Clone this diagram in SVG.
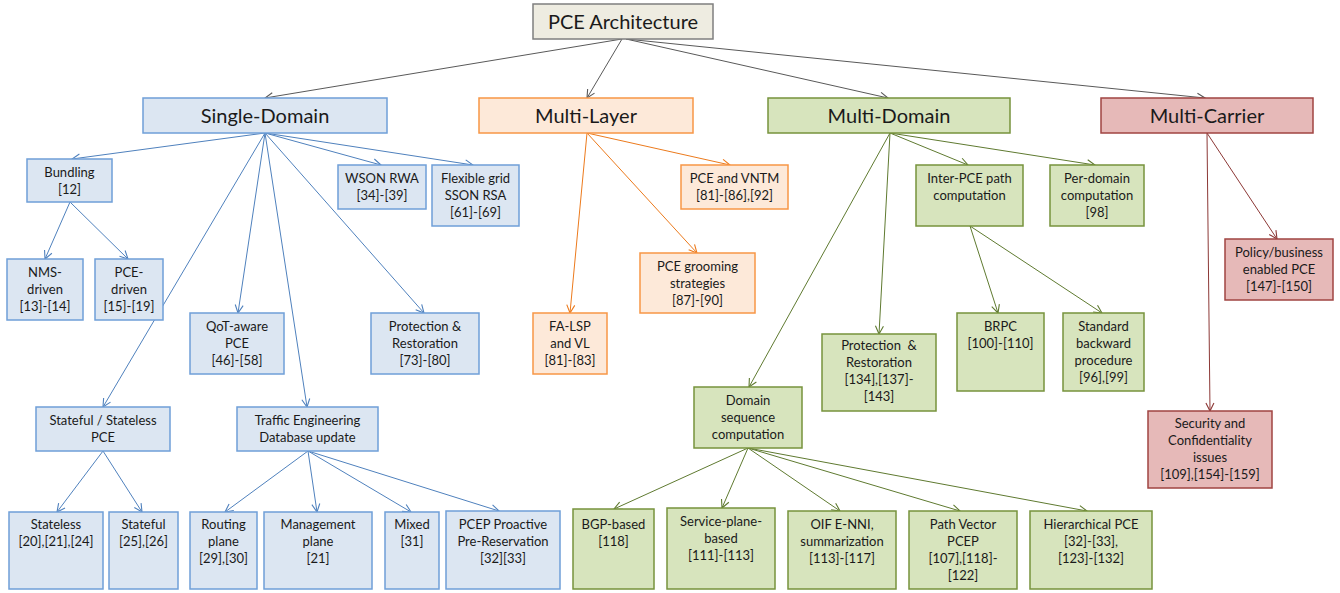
<svg xmlns="http://www.w3.org/2000/svg" width="1340" height="593" viewBox="0 0 1340 593">
  <style>
    text { font-family: Lato, "Open Sans", "Liberation Sans", sans-serif; fill: #1a1a1a; text-anchor: middle; }
    .head { font-size: 20px; }
    .small { font-size: 13px; }
    rect { stroke-width: 1.5; }
    .root rect { fill: #eeece1; stroke: #7f7f7f; }
    .blue rect { fill: #dce6f2; stroke: #6f9fd8; }
    .orange rect { fill: #fde9d9; stroke: #f79646; }
    .green rect { fill: #d7e4bd; stroke: #77933c; }
    .red rect { fill: #e6b9b8; stroke: #a04442; }
    #connectors line { stroke-width: 1; fill: none; }
    .c-gray { stroke: #595959; marker-end: url(#arr-gray); }
    .c-blue { stroke: #4f81bd; marker-end: url(#arr-blue); }
    .c-orange { stroke: #ec7a1c; marker-end: url(#arr-orange); }
    .c-green { stroke: #5f7a30; marker-end: url(#arr-green); }
    .c-red { stroke: #8c3836; marker-end: url(#arr-red); }
  </style>
  <defs>
    <marker id="arr-gray" markerUnits="userSpaceOnUse" markerWidth="12" markerHeight="12" refX="9" refY="5" orient="auto" overflow="visible">
      <path d="M1,1 L9,5 L1,9" fill="none" stroke="#595959" stroke-width="1.1"/>
    </marker>
    <marker id="arr-blue" markerUnits="userSpaceOnUse" markerWidth="12" markerHeight="12" refX="9" refY="5" orient="auto" overflow="visible">
      <path d="M1,1 L9,5 L1,9" fill="none" stroke="#4f81bd" stroke-width="1.1"/>
    </marker>
    <marker id="arr-orange" markerUnits="userSpaceOnUse" markerWidth="12" markerHeight="12" refX="9" refY="5" orient="auto" overflow="visible">
      <path d="M1,1 L9,5 L1,9" fill="none" stroke="#ec7a1c" stroke-width="1.1"/>
    </marker>
    <marker id="arr-green" markerUnits="userSpaceOnUse" markerWidth="12" markerHeight="12" refX="9" refY="5" orient="auto" overflow="visible">
      <path d="M1,1 L9,5 L1,9" fill="none" stroke="#5f7a30" stroke-width="1.1"/>
    </marker>
    <marker id="arr-red" markerUnits="userSpaceOnUse" markerWidth="12" markerHeight="12" refX="9" refY="5" orient="auto" overflow="visible">
      <path d="M1,1 L9,5 L1,9" fill="none" stroke="#8c3836" stroke-width="1.1"/>
    </marker>
  </defs>

  <rect x="0" y="0" width="1340" height="593" fill="#ffffff" stroke="none"/>

  <!-- connectors -->
  <g id="connectors">
    <!-- root to the four families -->
    <line class="c-gray" x1="622" y1="39" x2="265" y2="98"/>
    <line class="c-gray" x1="622" y1="39" x2="587" y2="98"/>
    <line class="c-gray" x1="626" y1="39" x2="888" y2="98"/>
    <line class="c-gray" x1="626" y1="39" x2="1205" y2="98"/>
    <!-- single-domain -->
    <line class="c-blue" x1="265" y1="133" x2="72" y2="159"/>
    <line class="c-blue" x1="265" y1="133" x2="381" y2="165"/>
    <line class="c-blue" x1="265" y1="133" x2="473" y2="165"/>
    <line class="c-blue" x1="265" y1="133" x2="238" y2="313"/>
    <line class="c-blue" x1="265" y1="133" x2="424" y2="313"/>
    <line class="c-blue" x1="265" y1="133" x2="103" y2="407"/>
    <line class="c-blue" x1="265" y1="133" x2="307" y2="407"/>
    <line class="c-blue" x1="70" y1="202" x2="45" y2="259"/>
    <line class="c-blue" x1="70" y1="202" x2="128" y2="259"/>
    <line class="c-blue" x1="103" y1="451" x2="57" y2="512"/>
    <line class="c-blue" x1="103" y1="451" x2="142" y2="512"/>
    <line class="c-blue" x1="308" y1="451" x2="225" y2="512"/>
    <line class="c-blue" x1="308" y1="451" x2="317" y2="512"/>
    <line class="c-blue" x1="308" y1="451" x2="411" y2="512"/>
    <line class="c-blue" x1="308" y1="451" x2="499" y2="511"/>
    <!-- multi-layer -->
    <line class="c-orange" x1="587" y1="133" x2="730" y2="165"/>
    <line class="c-orange" x1="587" y1="133" x2="697" y2="253"/>
    <line class="c-orange" x1="587" y1="133" x2="570" y2="313"/>
    <!-- multi-domain -->
    <line class="c-green" x1="890" y1="133" x2="968" y2="165"/>
    <line class="c-green" x1="890" y1="133" x2="1095" y2="165"/>
    <line class="c-green" x1="890" y1="133" x2="879" y2="334"/>
    <line class="c-green" x1="890" y1="133" x2="749" y2="387"/>
    <line class="c-green" x1="970" y1="226" x2="998" y2="313"/>
    <line class="c-green" x1="970" y1="226" x2="1102" y2="313"/>
    <line class="c-green" x1="748" y1="448" x2="614" y2="509"/>
    <line class="c-green" x1="748" y1="448" x2="722" y2="508"/>
    <line class="c-green" x1="748" y1="448" x2="840" y2="511"/>
    <line class="c-green" x1="748" y1="448" x2="960" y2="511"/>
    <line class="c-green" x1="748" y1="448" x2="1087" y2="511"/>
    <!-- multi-carrier -->
    <line class="c-red" x1="1207" y1="133" x2="1277" y2="239"/>
    <line class="c-red" x1="1207" y1="133" x2="1210" y2="411"/>
  </g>

  <!-- root -->
  <g id="pce-architecture" class="root">
    <rect x="533" y="4" width="180" height="35"/>
    <text class="head" x="623" y="29">PCE Architecture</text>
  </g>

  <!-- families -->
  <g id="single-domain" class="blue">
    <rect x="143" y="98" width="244" height="35"/>
    <text class="head" x="265" y="123">Single-Domain</text>
  </g>
  <g id="multi-layer" class="orange">
    <rect x="479" y="98" width="214" height="35"/>
    <text class="head" x="586" y="123">Multi-Layer</text>
  </g>
  <g id="multi-domain" class="green">
    <rect x="768" y="98" width="242" height="35"/>
    <text class="head" x="889" y="123">Multi-Domain</text>
  </g>
  <g id="multi-carrier" class="red">
    <rect x="1101" y="98" width="212" height="35"/>
    <text class="head" x="1207" y="123">Multi-Carrier</text>
  </g>

  <!-- single-domain topics -->
  <g id="bundling" class="blue">
    <rect x="27" y="159" width="85" height="43"/>
    <text class="small" x="69.5" y="177">Bundling<tspan x="69.5" dy="17">[12]</tspan></text>
  </g>
  <g id="nms-driven" class="blue">
    <rect x="7" y="259" width="76" height="61"/>
    <text class="small" x="45" y="277">NMS-<tspan x="45" dy="17">driven</tspan><tspan x="45" dy="17">[13]-[14]</tspan></text>
  </g>
  <g id="pce-driven" class="blue">
    <rect x="95" y="259" width="68" height="61"/>
    <text class="small" x="129" y="277">PCE-<tspan x="129" dy="17">driven</tspan><tspan x="129" dy="17">[15]-[19]</tspan></text>
  </g>
  <g id="wson-rwa" class="blue">
    <rect x="338" y="165" width="88" height="44"/>
    <text class="small" x="382" y="183">WSON RWA<tspan x="382" dy="17">[34]-[39]</tspan></text>
  </g>
  <g id="flexible-grid" class="blue">
    <rect x="432" y="165" width="87" height="61"/>
    <text class="small" x="475.5" y="183">Flexible grid<tspan x="475.5" dy="17">SSON RSA</tspan><tspan x="475.5" dy="17">[61]-[69]</tspan></text>
  </g>
  <g id="qot-aware" class="blue">
    <rect x="190" y="313" width="94" height="61"/>
    <text class="small" x="237" y="331">QoT-aware<tspan x="237" dy="17">PCE</tspan><tspan x="237" dy="17">[46]-[58]</tspan></text>
  </g>
  <g id="sd-protection" class="blue">
    <rect x="371" y="313" width="108" height="61"/>
    <text class="small" x="425" y="331">Protection &amp;<tspan x="425" dy="17">Restoration</tspan><tspan x="425" dy="17">[73]-[80]</tspan></text>
  </g>
  <g id="stateful-stateless" class="blue">
    <rect x="36" y="407" width="134" height="44"/>
    <text class="small" x="103" y="425">Stateful / Stateless<tspan x="103" dy="17">PCE</tspan></text>
  </g>
  <g id="ted-update" class="blue">
    <rect x="237" y="407" width="141" height="44"/>
    <text class="small" x="307.5" y="425">Traffic Engineering<tspan x="307.5" dy="17">Database update</tspan></text>
  </g>
  <g id="stateless" class="blue">
    <rect x="9" y="512" width="94" height="77"/>
    <text class="small" x="56" y="529">Stateless<tspan x="56" dy="17">[20],[21],[24]</tspan></text>
  </g>
  <g id="stateful" class="blue">
    <rect x="109" y="512" width="69" height="77"/>
    <text class="small" x="143.5" y="529">Stateful<tspan x="143.5" dy="17">[25],[26]</tspan></text>
  </g>
  <g id="routing-plane" class="blue">
    <rect x="190" y="512" width="67" height="77"/>
    <text class="small" x="223.5" y="529">Routing<tspan x="223.5" dy="17">plane</tspan><tspan x="223.5" dy="17">[29],[30]</tspan></text>
  </g>
  <g id="management-plane" class="blue">
    <rect x="264" y="512" width="108" height="77"/>
    <text class="small" x="318" y="529">Management<tspan x="318" dy="17">plane</tspan><tspan x="318" dy="17">[21]</tspan></text>
  </g>
  <g id="mixed" class="blue">
    <rect x="385" y="512" width="54" height="77"/>
    <text class="small" x="412" y="529">Mixed<tspan x="412" dy="17">[31]</tspan></text>
  </g>
  <g id="pcep-proactive" class="blue">
    <rect x="446" y="511" width="114" height="78"/>
    <text class="small" x="503" y="529">PCEP Proactive<tspan x="503" dy="17">Pre-Reservation</tspan><tspan x="503" dy="17">[32][33]</tspan></text>
  </g>

  <!-- multi-layer topics -->
  <g id="pce-vntm" class="orange">
    <rect x="681" y="165" width="107" height="44"/>
    <text class="small" x="734.5" y="183">PCE and VNTM<tspan x="734.5" dy="17">[81]-[86],[92]</tspan></text>
  </g>
  <g id="pce-grooming" class="orange">
    <rect x="640" y="253" width="115" height="60"/>
    <text class="small" x="697.5" y="271">PCE grooming<tspan x="697.5" dy="17">strategies</tspan><tspan x="697.5" dy="17">[87]-[90]</tspan></text>
  </g>
  <g id="fa-lsp" class="orange">
    <rect x="533" y="313" width="74" height="61"/>
    <text class="small" x="570" y="331">FA-LSP<tspan x="570" dy="17">and VL</tspan><tspan x="570" dy="17">[81]-[83]</tspan></text>
  </g>

  <!-- multi-domain topics -->
  <g id="inter-pce" class="green">
    <rect x="916" y="165" width="107" height="61"/>
    <text class="small" x="969.5" y="183">Inter-PCE path<tspan x="969.5" dy="17">computation</tspan></text>
  </g>
  <g id="per-domain" class="green">
    <rect x="1050" y="165" width="94" height="61"/>
    <text class="small" x="1097" y="183">Per-domain<tspan x="1097" dy="17">computation</tspan><tspan x="1097" dy="17">[98]</tspan></text>
  </g>
  <g id="md-protection" class="green">
    <rect x="822" y="334" width="114" height="77"/>
    <text class="small" x="879" y="350">Protection&#160; &amp;<tspan x="879" dy="17">Restoration</tspan><tspan x="879" dy="17">[134],[137]-</tspan><tspan x="879" dy="17">[143]</tspan></text>
  </g>
  <g id="brpc" class="green">
    <rect x="957" y="313" width="87" height="78"/>
    <text class="small" x="1000.5" y="331">BRPC<tspan x="1000.5" dy="17">[100]-[110]</tspan></text>
  </g>
  <g id="standard-backward" class="green">
    <rect x="1063" y="313" width="81" height="78"/>
    <text class="small" x="1103.5" y="331">Standard<tspan x="1103.5" dy="17">backward</tspan><tspan x="1103.5" dy="17">procedure</tspan><tspan x="1103.5" dy="17">[96],[99]</tspan></text>
  </g>
  <g id="domain-sequence" class="green">
    <rect x="694" y="387" width="108" height="61"/>
    <text class="small" x="748" y="405">Domain<tspan x="748" dy="17">sequence</tspan><tspan x="748" dy="17">computation</tspan></text>
  </g>
  <g id="bgp-based" class="green">
    <rect x="573" y="509" width="81" height="80"/>
    <text class="small" x="613.5" y="529">BGP-based<tspan x="613.5" dy="17">[118]</tspan></text>
  </g>
  <g id="service-plane" class="green">
    <rect x="667" y="508" width="108" height="81"/>
    <text class="small" x="721" y="526">Service-plane-<tspan x="721" dy="17">based</tspan><tspan x="721" dy="17">[111]-[113]</tspan></text>
  </g>
  <g id="oif-enni" class="green">
    <rect x="788" y="511" width="108" height="78"/>
    <text class="small" x="842" y="529">OIF E-NNI,<tspan x="842" dy="17">summarization</tspan><tspan x="842" dy="17">[113]-[117]</tspan></text>
  </g>
  <g id="path-vector" class="green">
    <rect x="909" y="511" width="108" height="78"/>
    <text class="small" x="963" y="529">Path Vector<tspan x="963" dy="17">PCEP</tspan><tspan x="963" dy="17">[107],[118]-</tspan><tspan x="963" dy="17">[122]</tspan></text>
  </g>
  <g id="hierarchical-pce" class="green">
    <rect x="1030" y="511" width="122" height="78"/>
    <text class="small" x="1091" y="529">Hierarchical PCE<tspan x="1091" dy="17">[32]-[33],</tspan><tspan x="1091" dy="17">[123]-[132]</tspan></text>
  </g>

  <!-- multi-carrier topics -->
  <g id="policy-business" class="red">
    <rect x="1225" y="239" width="108" height="61"/>
    <text class="small" x="1279" y="257">Policy/business<tspan x="1279" dy="17">enabled PCE</tspan><tspan x="1279" dy="17">[147]-[150]</tspan></text>
  </g>
  <g id="security" class="red">
    <rect x="1148" y="411" width="124" height="77"/>
    <text class="small" x="1210" y="428">Security and<tspan x="1210" dy="17">Confidentiality</tspan><tspan x="1210" dy="17">issues</tspan><tspan x="1210" dy="17">[109],[154]-[159]</tspan></text>
  </g>
</svg>
